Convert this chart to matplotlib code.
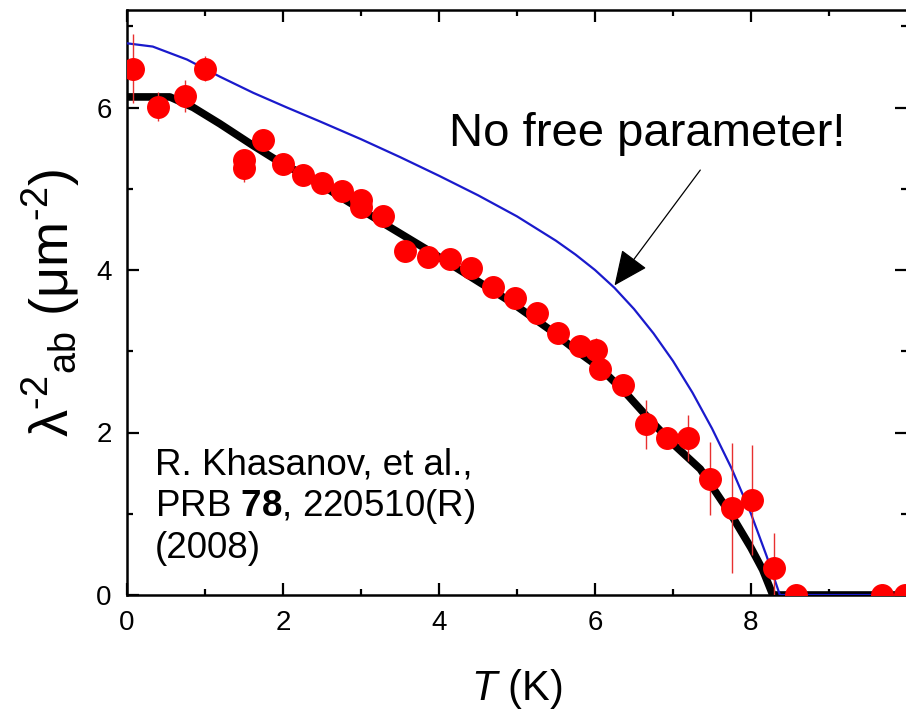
import matplotlib
matplotlib.use('Agg')
from matplotlib import pyplot as plt

plt.rcParams['font.family'] = ['Liberation Sans', 'DejaVu Sans']
plt.rcParams['mathtext.fontset'] = 'custom'
plt.rcParams['mathtext.rm'] = 'Liberation Sans'
plt.rcParams['mathtext.it'] = 'Liberation Sans:italic'
plt.rcParams['mathtext.bf'] = 'Liberation Sans:bold'

# muSR data (red points)
T_data = [0.08, 0.40, 0.74, 1.00, 1.50, 1.50, 1.74, 2.00, 2.26, 2.50, 2.76, 3.00, 3.00,
          3.28, 3.56, 3.86, 4.14, 4.41, 4.69, 4.97, 5.26, 5.53, 5.81, 6.01, 6.06, 6.36,
          6.65, 6.92, 7.19, 7.47, 7.76, 8.01, 8.30, 8.58, 9.68, 9.97]
lam_data = [6.48, 6.01, 6.14, 6.48, 5.35, 5.25, 5.60, 5.31, 5.17, 5.07, 4.97, 4.86, 4.77,
            4.67, 4.23, 4.16, 4.13, 4.03, 3.79, 3.66, 3.47, 3.23, 3.06, 3.01, 2.78, 2.58,
            2.10, 1.93, 1.93, 1.43, 1.07, 1.17, 0.33, 0.00, 0.00, 0.00]
lam_err = [0.42, 0.18, 0.20, 0.15, 0.10, 0.17, 0.10, 0.10, 0.08, 0.08, 0.08, 0.12, 0.10,
           0.08, 0.08, 0.08, 0.08, 0.08, 0.08, 0.08, 0.08, 0.08, 0.08, 0.15, 0.10, 0.10,
           0.30, 0.12, 0.28, 0.45, 0.80, 0.68, 0.43, 0.05, 0.05, 0.05]

# fit (black)
T_fit = [0, 0.55, 0.85, 1.19, 1.62, 1.92, 2.4, 2.82, 3.33, 3.9, 4.4, 4.9, 5.4, 5.8,
         6.06, 6.4, 6.71, 7.0, 7.35, 7.77, 8.0, 8.15, 8.28, 10]
lam_fit = [6.13, 6.13, 6.00, 5.80, 5.53, 5.35, 5.10, 4.85, 4.55, 4.22, 3.92, 3.62, 3.28, 2.98,
           2.80, 2.48, 2.15, 1.86, 1.55, 0.95, 0.58, 0.31, 0.0, 0.0]

# prediction, no free parameter (blue)
T_pred = [0, 0.33, 0.77, 1.19, 1.62, 2.05, 2.47, 3.0, 3.5, 4.0, 4.5, 5.0, 5.5, 5.75,
          6.0, 6.25, 6.5, 6.75, 7.0, 7.25, 7.5, 7.75, 8.0, 8.2, 8.37, 10]
lam_pred = [6.79, 6.75, 6.59, 6.38, 6.18, 6.00, 5.83, 5.61, 5.39, 5.16, 4.92, 4.66, 4.36, 4.19,
            4.00, 3.78, 3.52, 3.22, 2.88, 2.49, 2.05, 1.56, 1.00, 0.48, 0.0, 0.0]

fig = plt.figure(figsize=(9.06, 7.10), dpi=100)
ax = fig.add_axes([127/906, 115/710, 780/906, 585/710])

ax.plot(T_fit, lam_fit, color='black', lw=5.5, solid_capstyle='butt', zorder=2)
ax.plot(T_pred, lam_pred, color='#1a1acc', lw=1.6, zorder=3)
ax.errorbar(T_data, lam_data, yerr=lam_err, fmt='o', color='#ff0000', ms=15.5,
            mec='#ff0000', ecolor='#e83030', elinewidth=1.0, capsize=0, zorder=4)

ax.set_xlim(0, 10)
ax.set_ylim(0, 7.2)
ax.set_xticks([0, 2, 4, 6, 8])
ax.set_xticks([1, 3, 5, 7, 9], minor=True)
ax.set_yticks([0, 2, 4, 6])
ax.set_yticks([1, 3, 5, 7], minor=True)
ax.tick_params(which='both', direction='in', top=True, right=True, width=1.6,
               labelsize=20, pad=11)
ax.tick_params(which='major', length=8.5)
ax.tick_params(which='minor', length=4.5)
for s in ax.spines.values():
    s.set_linewidth(1.8)

ax.set_xlabel('$T$ (K)', fontsize=30, labelpad=22)
ax.set_ylabel('λ$^{\\text{-}2}$$_{\\rm ab}$ (μm$^{\\text{-}2}$)', fontsize=39, labelpad=10)

ax.annotate('', xy=(6.25, 3.81), xytext=(7.35, 5.23),
            arrowprops=dict(arrowstyle='-|>,head_length=0.4,head_width=0.18',
                            mutation_scale=55, lw=0.9, color='black',
                            shrinkA=0, shrinkB=0))
ax.text(6.67, 5.68, 'No free parameter!', fontsize=34, ha='center', va='center')
ax.text(0.36, 1.82, 'R. Khasanov, et al.,\nPRB $\\mathbf{78}$, 220510(R)\n(2008)',
        fontsize=26.5, ha='left', va='top', linespacing=1.17)

fig.savefig('out.png', dpi=100)
